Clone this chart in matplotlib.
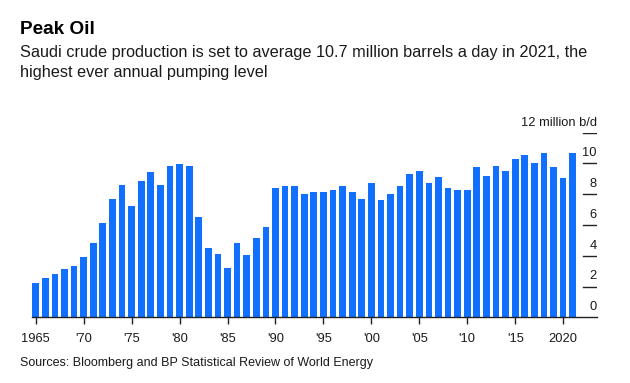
import matplotlib
matplotlib.use("Agg")
import matplotlib.pyplot as plt
import matplotlib.transforms as mtransforms

plt.rcParams['font.family'] = ['Liberation Sans', 'DejaVu Sans']

years = list(range(1965, 2022))
production = [2.23, 2.58, 2.84, 3.14, 3.33, 3.92, 4.81, 6.13, 7.71, 8.59,
              7.23, 8.85, 9.46, 8.59, 9.81, 9.94, 9.81, 6.49, 4.52, 4.09,
              3.18, 4.81, 4.05, 5.13, 5.84, 8.42, 8.53, 8.53, 7.99, 8.12,
              8.12, 8.25, 8.53, 8.12, 7.68, 8.72, 7.62, 7.99, 8.53, 9.31,
              9.50, 8.72, 9.13, 8.40, 8.25, 8.29, 9.74, 9.18, 9.81, 9.50,
              10.32, 10.52, 10.04, 10.71, 9.74, 9.03, 10.71]
xtick_pos = [1965, 1970, 1975, 1980, 1985, 1990, 1995, 2000, 2005, 2010, 2015, 2020]
xtick_labels = ["1965", "'70", "'75", "'80", "'85", "'90", "'95", "'00", "'05", "'10", "'15", "2020"]
ytick_pos = [0, 2, 4, 6, 8, 10, 12]
ytick_labels = ["0", "2", "4", "6", "8", "10", "12 million b/d"]

title = "Peak Oil"
subtitle1 = "Saudi crude production is set to average 10.7 million barrels a day in 2021, the"
subtitle2 = "highest ever annual pumping level"
source = "Sources: Bloomberg and BP Statistical Review of World Energy"

bar_color = "#1170ff"
text_color = "#1a1a1a"

fig = plt.figure(figsize=(6.3, 3.83), dpi=100)
ax = fig.add_axes([0.0503, 0.1715, 0.8973, 0.4820])

ax.bar(years, production, width=0.7, color=bar_color, zorder=2)
ax.set_xlim(1965 - 0.42, 2021 + 2.53)
ax.set_ylim(0, 12)

for s in ["top", "right", "left"]:
    ax.spines[s].set_visible(False)
ax.spines["bottom"].set_color("#222222")
ax.spines["bottom"].set_linewidth(1.0)

ax.set_xticks(xtick_pos)
ax.set_xticklabels(xtick_labels, fontsize=9.3, color=text_color)
ax.tick_params(axis="x", length=5, width=1, color="#222222", pad=6)
ax.set_yticks([])

# right-side y ticks and labels
tx = 1 - (597 - 583) / (597 - 31.7)
label_offset = mtransforms.offset_copy(ax.get_yaxis_transform(), fig=fig, x=0, y=3, units="points")
for y, lab in zip(ytick_pos, ytick_labels):
    if y > 0:
        ax.axhline(y, xmin=tx, xmax=1.0, color="#222222", linewidth=1.0, zorder=1)
    ax.text(1.0, y, lab, transform=label_offset, ha="right", va="bottom",
            fontsize=9.3, color=text_color)

fig.text(20 / 630, 1 - 29.3 / 383, title, fontsize=13.6, fontweight="bold",
         color="#000000", va="center", ha="left")
fig.text(20 / 630, 1 - 53 / 383, subtitle1, fontsize=11.7, color=text_color,
         va="center", ha="left")
fig.text(20 / 630, 1 - 72.7 / 383, subtitle2, fontsize=11.7, color=text_color,
         va="center", ha="left")
fig.text(20 / 630, 1 - 362.7 / 383, source, fontsize=9.0, color=text_color,
         va="center", ha="left")

fig.savefig("out.png", dpi=100)
